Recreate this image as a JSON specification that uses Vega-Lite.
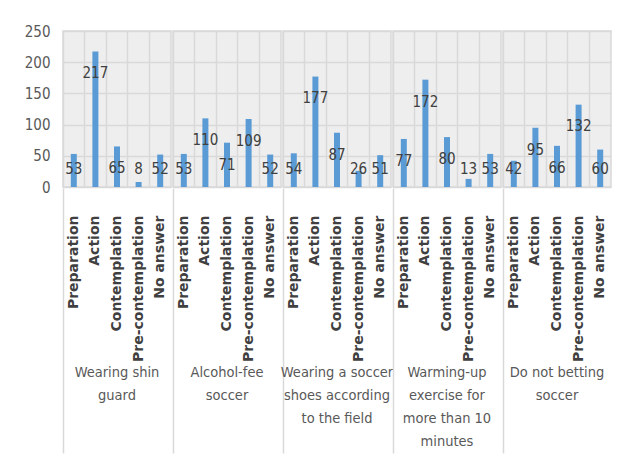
{
  "$schema": "https://vega.github.io/schema/vega-lite/v6.json",
  "padding": {"left": 24, "top": 24, "right": 5, "bottom": 0},
  "background": "white",
  "data": {"values": [
    {"group": "Wearing shin guard", "stage": "Preparation", "value": 53},
    {"group": "Wearing shin guard", "stage": "Action", "value": 217},
    {"group": "Wearing shin guard", "stage": "Contemplation", "value": 65},
    {"group": "Wearing shin guard", "stage": "Pre-contemplation", "value": 8},
    {"group": "Wearing shin guard", "stage": "No answer", "value": 52},
    {"group": "Alcohol-fee soccer", "stage": "Preparation", "value": 53},
    {"group": "Alcohol-fee soccer", "stage": "Action", "value": 110},
    {"group": "Alcohol-fee soccer", "stage": "Contemplation", "value": 71},
    {"group": "Alcohol-fee soccer", "stage": "Pre-contemplation", "value": 109},
    {"group": "Alcohol-fee soccer", "stage": "No answer", "value": 52},
    {"group": "Wearing a soccer shoes according to the field", "stage": "Preparation", "value": 54},
    {"group": "Wearing a soccer shoes according to the field", "stage": "Action", "value": 177},
    {"group": "Wearing a soccer shoes according to the field", "stage": "Contemplation", "value": 87},
    {"group": "Wearing a soccer shoes according to the field", "stage": "Pre-contemplation", "value": 26},
    {"group": "Wearing a soccer shoes according to the field", "stage": "No answer", "value": 51},
    {"group": "Warming-up exercise for more than 10 minutes", "stage": "Preparation", "value": 77},
    {"group": "Warming-up exercise for more than 10 minutes", "stage": "Action", "value": 172},
    {"group": "Warming-up exercise for more than 10 minutes", "stage": "Contemplation", "value": 80},
    {"group": "Warming-up exercise for more than 10 minutes", "stage": "Pre-contemplation", "value": 13},
    {"group": "Warming-up exercise for more than 10 minutes", "stage": "No answer", "value": 53},
    {"group": "Do not betting soccer", "stage": "Preparation", "value": 42},
    {"group": "Do not betting soccer", "stage": "Action", "value": 95},
    {"group": "Do not betting soccer", "stage": "Contemplation", "value": 66},
    {"group": "Do not betting soccer", "stage": "Pre-contemplation", "value": 132},
    {"group": "Do not betting soccer", "stage": "No answer", "value": 60}
  ]},
  "transform": [{"calculate": "max(datum.value - 35, 29)", "as": "labelY"}],
  "spacing": 0,
  "facet": {
    "column": {
      "field": "group",
      "type": "nominal",
      "sort": ["Wearing shin guard", "Alcohol-fee soccer", "Wearing a soccer shoes according to the field", "Warming-up exercise for more than 10 minutes", "Do not betting soccer"],
      "title": null,
      "header": {
        "labelOrient": "bottom",
        "labelFont": "DejaVu Sans Condensed",
        "labelFontSize": 14.5,
        "labelColor": "#595959",
        "labelPadding": -88,
        "labelLineHeight": 23,
        "labelBaseline": "top",
        "labelExpr": "datum.value == 'Wearing shin guard' ? ['Wearing shin', 'guard'] : datum.value == 'Alcohol-fee soccer' ? ['Alcohol-fee', 'soccer'] : datum.value == 'Wearing a soccer shoes according to the field' ? ['Wearing a soccer', 'shoes according', 'to the field'] : datum.value == 'Warming-up exercise for more than 10 minutes' ? ['Warming-up', 'exercise for', 'more than 10', 'minutes'] : ['Do not betting', 'soccer']"
      }
    }
  },
  "spec": {
    "width": 108,
    "height": 156,
    "encoding": {
      "x": {
        "field": "stage",
        "type": "nominal",
        "sort": ["Preparation", "Action", "Contemplation", "Pre-contemplation", "No answer"],
        "scale": {"paddingInner": 0, "paddingOuter": 0},
        "title": null,
        "axis": {
          "bandPosition": 0,
          "grid": true,
          "gridColor": "#d9d9d9",
          "gridWidth": 1.5,
          "domain": false,
          "ticks": true,
          "tickSize": 265,
          "tickColor": "#d9d9d9",
          "tickWidth": 1.5,
          "tickOpacity": {"condition": {"test": "datum.value === 'Preparation'", "value": 1}, "value": 0},
          "labelPadding": -238,
          "labelAngle": -90,
          "labelFont": "DejaVu Sans",
          "labelFontWeight": "bold",
          "labelFontSize": 14,
          "labelColor": "#404040"
        }
      }
    },
    "layer": [
      {
        "mark": {"type": "bar", "width": 6, "color": "#5b9bd5"},
        "encoding": {
          "y": {
            "field": "value",
            "type": "quantitative",
            "title": null,
            "scale": {"domain": [0, 250]},
            "axis": {
              "values": [0, 50, 100, 150, 200, 250],
              "labelOverlap": false,
              "grid": true,
              "gridColor": "#d9d9d9",
              "gridWidth": 1.5,
              "domain": false,
              "ticks": false,
              "labelPadding": 12,
              "labelFont": "DejaVu Sans Condensed",
              "labelFontSize": 15,
              "labelColor": "#595959"
            }
          }
        }
      },
      {
        "mark": {"type": "text", "font": "DejaVu Sans Condensed", "fontSize": 15, "color": "#404040", "baseline": "middle", "align": "center"},
        "encoding": {
          "y": {
            "field": "labelY",
            "type": "quantitative",
            "title": null,
            "scale": {"domain": [0, 250]},
            "axis": {
              "values": [0, 50, 100, 150, 200, 250],
              "labelOverlap": false,
              "grid": true,
              "gridColor": "#d9d9d9",
              "gridWidth": 1.5,
              "domain": false,
              "ticks": false,
              "labelPadding": 12,
              "labelFont": "DejaVu Sans Condensed",
              "labelFontSize": 15,
              "labelColor": "#595959"
            }
          },
          "text": {"field": "value", "type": "quantitative"}
        }
      }
    ]
  },
  "config": {
    "view": {"stroke": "#d9d9d9", "strokeWidth": 1.5, "fill": "#eeeeee"}
  }
}
